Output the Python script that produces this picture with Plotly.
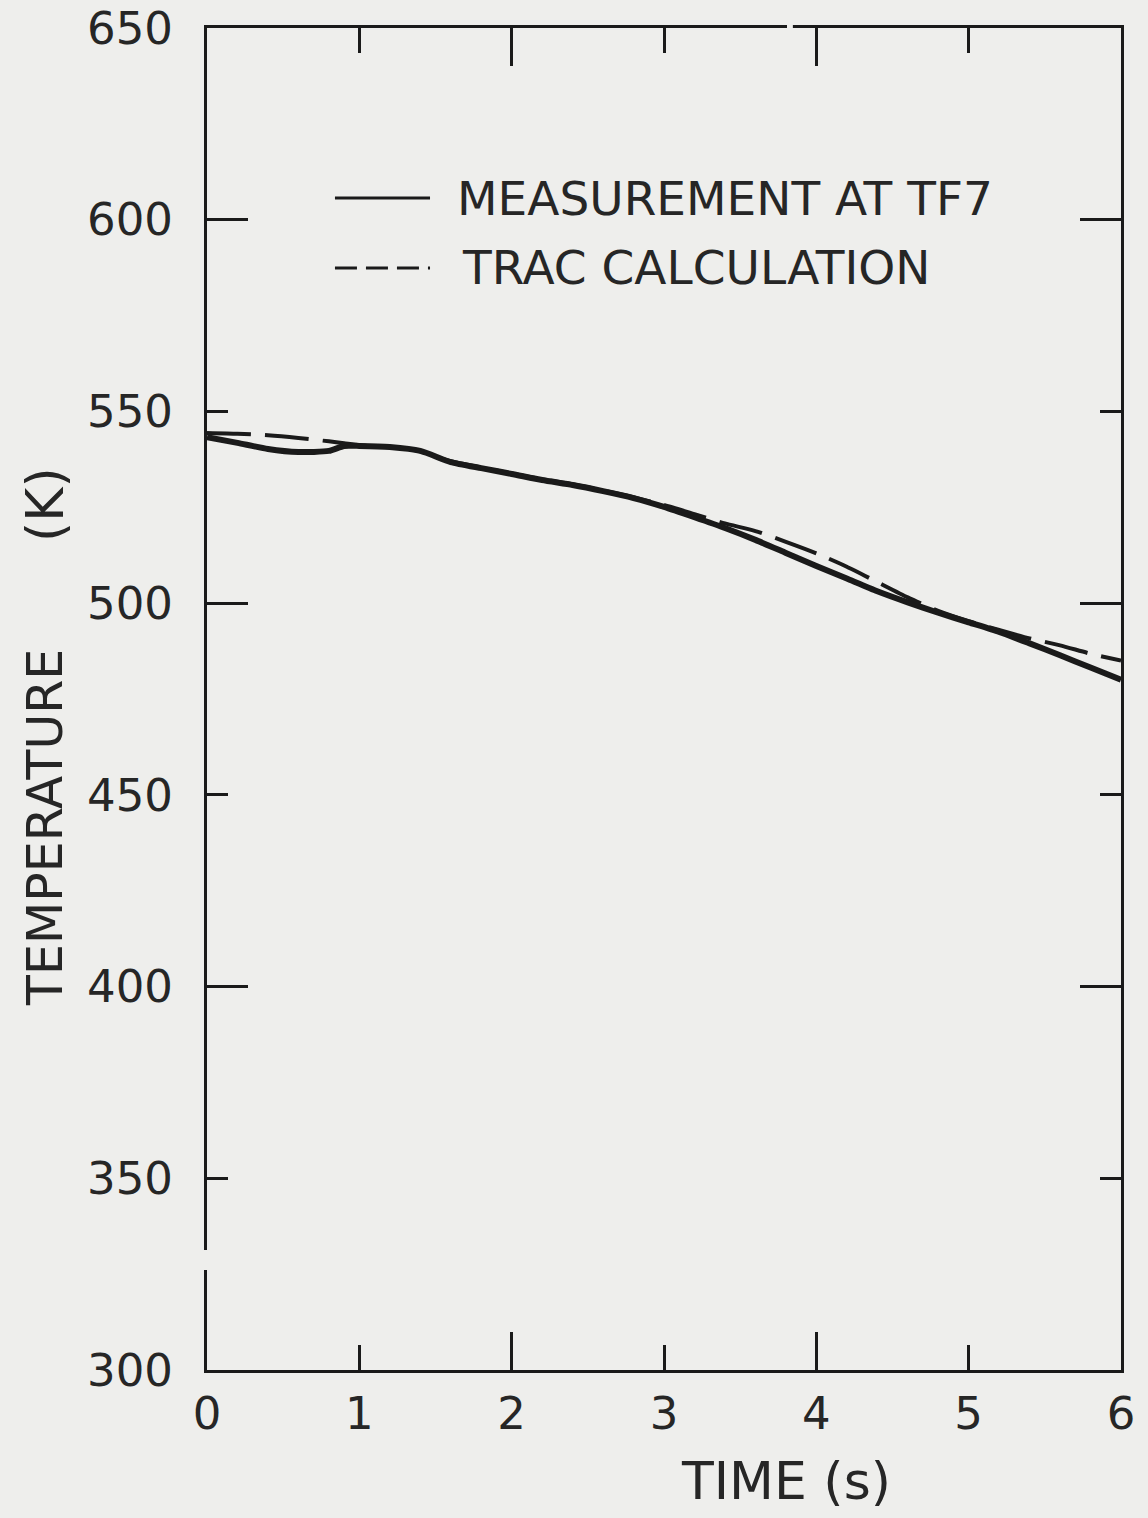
import plotly.graph_objects as go

# Time (s)
time_s = [0.0, 0.2, 0.4, 0.6, 0.8, 0.9, 1.0, 1.2, 1.4, 1.6, 1.8, 2.0, 2.2, 2.4, 2.6, 2.8,
          3.0, 3.2, 3.4, 3.6, 3.8, 4.0, 4.2, 4.4, 4.6, 4.8, 5.0, 5.2, 5.4, 5.6, 5.8, 6.0]

# Measured fluid temperature at TF7 (K)
measured_k = [543.3, 541.8, 540.2, 539.4, 539.7, 541.0, 541.0, 540.7, 539.7, 536.8, 535.2,
              533.7, 532.1, 530.8, 529.2, 527.4, 525.1, 522.4, 519.6, 516.5, 513.1, 509.7,
              506.4, 503.1, 500.2, 497.5, 495.0, 492.5, 489.5, 486.4, 483.2, 480.0]

# TRAC calculated temperature (K)
trac_k = [544.4, 544.2, 543.8, 543.1, 542.2, 541.7, 541.2, 540.7, 539.6, 537.0, 535.4,
          533.8, 532.3, 531.0, 529.4, 527.6, 525.6, 523.2, 520.8, 518.8, 516.0, 513.0,
          509.5, 505.5, 501.5, 498.0, 495.3, 493.0, 490.8, 489.0, 486.8, 485.0]

x_ticks = [0, 1, 2, 3, 4, 5, 6]
y_ticks = [300, 350, 400, 450, 500, 550, 600, 650]

INK = "#1a1a1a"
TEXT = "#262626"
BG = "#eeeeec"
NUM_FONT = dict(family="DejaVu Sans", size=45, color=TEXT)

fig = go.Figure()

fig.add_trace(go.Scatter(
    x=time_s, y=measured_k, mode="lines",
    line=dict(color=INK, width=6, shape="spline", smoothing=0.6),
    showlegend=False, xaxis="x", yaxis="y",
))
fig.add_trace(go.Scatter(
    x=time_s, y=trac_k, mode="lines",
    line=dict(color=INK, width=4, dash="44px,14px", shape="spline", smoothing=0.6),
    showlegend=False, xaxis="x2", yaxis="y2",
))

x_range = [0, 6]
y_range = [300, 650]

fig.update_layout(
    width=1148, height=1518,
    margin=dict(l=207, r=27, t=28, b=148, autoexpand=False),
    paper_bgcolor=BG, plot_bgcolor=BG,
    xaxis=dict(
        range=x_range, tickvals=x_ticks, ticktext=[str(v) for v in x_ticks],
        ticks="inside", ticklen=25, tickwidth=2.5, tickcolor=INK,
        showline=True, linewidth=3, linecolor=INK, mirror="allticks",
        showgrid=False, zeroline=False, tickfont=NUM_FONT, ticklabelstandoff=2,
        automargin=False,
    ),
    yaxis=dict(
        range=y_range, tickvals=y_ticks, ticktext=[str(v) for v in y_ticks],
        ticks="inside", ticklen=21, tickwidth=2.5, tickcolor=INK,
        showline=True, linewidth=3, linecolor=INK, mirror="allticks",
        showgrid=False, zeroline=False, tickfont=NUM_FONT, ticklabelstandoff=22,
        automargin=False,
    ),
    # longer ticks at every second division
    xaxis2=dict(
        range=x_range, overlaying="x", anchor="y2", tick0=0, dtick=2,
        ticks="inside", ticklen=38, tickwidth=2.5, tickcolor=INK,
        showline=False, mirror="allticks", showticklabels=False,
        showgrid=False, zeroline=False, automargin=False,
    ),
    yaxis2=dict(
        range=y_range, overlaying="y", anchor="x2", tick0=0, dtick=100,
        ticks="inside", ticklen=41, tickwidth=2.5, tickcolor=INK,
        showline=False, mirror="allticks", showticklabels=False,
        showgrid=False, zeroline=False, automargin=False,
    ),
)

# key
fig.add_shape(type="line", xref="paper", yref="paper", x0=0.140, x1=0.244, y0=0.8733, y1=0.8733,
              line=dict(color=INK, width=3))
fig.add_shape(type="line", xref="paper", yref="paper", x0=0.140, x1=0.244, y0=0.8212, y1=0.8212,
              line=dict(color=INK, width=3, dash="22px,9px"))
fig.add_annotation(xref="paper", yref="paper", x=0.2713, y=0.8733, xanchor="left", yanchor="middle",
                   text="MEASUREMENT AT TF7", showarrow=False,
                   font=dict(family="DejaVu Sans", size=47, color=TEXT))
fig.add_annotation(xref="paper", yref="paper", x=0.2768, y=0.8212, xanchor="left", yanchor="middle",
                   text="TRAC CALCULATION", showarrow=False,
                   font=dict(family="DejaVu Sans", size=47, color=TEXT))

# axis titles
fig.add_annotation(xref="paper", yref="paper", x=(786 - 207) / 914, y=(1370 - 1481) / 1342,
                   xanchor="center", yanchor="middle", text="TIME (s)", showarrow=False,
                   font=dict(family="DejaVu Sans", size=52, color=TEXT))
fig.add_annotation(xref="paper", yref="paper", x=(45 - 207) / 914, y=(1370 - 828) / 1342,
                   xanchor="center", yanchor="middle", text="TEMPERATURE", textangle=-90,
                   showarrow=False, font=dict(family="DejaVu Sans", size=49, color=TEXT))
fig.add_annotation(xref="paper", yref="paper", x=(45 - 207) / 914, y=(1370 - 505) / 1342,
                   xanchor="center", yanchor="middle", text="(K)", textangle=-90,
                   showarrow=False, font=dict(family="DejaVu Sans", size=52, color=TEXT))

# small breaks in the hand-drawn frame
fig.add_shape(type="rect", xref="paper", yref="paper", x0=-0.006, x1=0.006, y0=0.0745, y1=0.0894,
              line=dict(width=0), fillcolor=BG, layer="above")
fig.add_shape(type="rect", xref="paper", yref="paper", x0=0.6346, x1=0.6410, y0=0.994, y1=1.006,
              line=dict(width=0), fillcolor=BG, layer="above")

fig.write_html("out.html")
